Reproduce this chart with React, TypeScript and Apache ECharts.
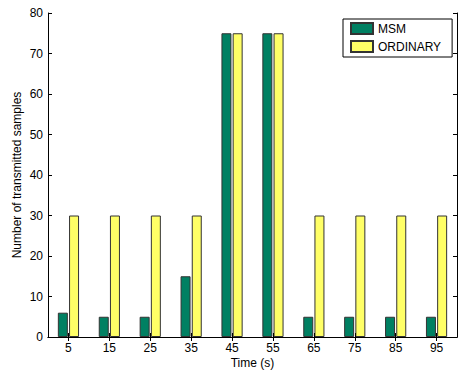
import React, { useEffect, useRef } from "react";
import * as echarts from "echarts";

const categories = ["5", "15", "25", "35", "45", "55", "65", "75", "85", "95"];
const msm = [6, 5, 5, 15, 75, 75, 5, 5, 5, 5];
const ordinary = [30, 30, 30, 30, 75, 75, 30, 30, 30, 30];
const yTicks = { min: 0, max: 80, interval: 10 };

const FONT = "'Liberation Sans', Arial, sans-serif";

export default function App() {
  const ref = useRef<HTMLDivElement>(null);
  useEffect(() => {
    if (!ref.current) return;
    const chart = echarts.init(ref.current, undefined, { renderer: "svg" });
    const axisLine = { show: true, lineStyle: { color: "#000", width: 1 } };
    const tick = { show: true, inside: true, length: 4, lineStyle: { color: "#000" } };
    chart.setOption({
      animation: false,
      backgroundColor: "#fff",
      textStyle: { fontFamily: FONT },
      grid: { left: 48, right: 1, top: 13, bottom: 33, outerBoundsMode: "none", containLabel: false },
      legend: {
        orient: "vertical",
        left: 343,
        top: 19,
        padding: [3, 11, 4, 7],
        itemWidth: 22,
        itemHeight: 11,
        itemGap: 5,
        backgroundColor: "#fff",
        borderColor: "#000",
        borderWidth: 1,
        borderRadius: 0,
        icon: "rect",
        textStyle: { fontSize: 12, color: "#000", fontFamily: FONT, padding: [0, 0, 0, 0] },
        data: ["MSM", "ORDINARY"],
      },
      xAxis: [
        {
          type: "category",
          data: categories,
          position: "bottom",
          z: 10,
          axisLine,
          axisTick: { ...tick, alignWithLabel: true },
          axisLabel: { color: "#000", fontSize: 12, fontFamily: FONT, margin: 5 },
          name: "Time (s)",
          nameLocation: "middle",
          nameGap: 20,
          nameMoveOverlap: false,
          nameTextStyle: { color: "#000", fontSize: 12, fontFamily: FONT },
          splitLine: { show: false },
        },
        {
          type: "category",
          data: categories,
          position: "top",
          z: 10,
          axisLine,
          axisTick: { ...tick, alignWithLabel: true },
          axisLabel: { show: false },
          splitLine: { show: false },
        },
      ],
      yAxis: [
        {
          type: "value",
          position: "left",
          ...yTicks,
          z: 10,
          axisLine,
          axisTick: tick,
          axisLabel: { color: "#000", fontSize: 12, fontFamily: FONT, margin: 5 },
          name: "Number of transmitted samples",
          nameLocation: "middle",
          nameGap: 25,
          nameMoveOverlap: false,
          nameRotate: 90,
          nameTextStyle: { color: "#000", fontSize: 12, fontFamily: FONT },
          splitLine: { show: false },
        },
        {
          type: "value",
          position: "right",
          ...yTicks,
          z: 10,
          axisLine,
          axisTick: tick,
          axisLabel: { show: false },
          splitLine: { show: false },
        },
      ],
      series: [
        {
          name: "MSM",
          type: "bar",
          data: msm,
          barWidth: 10,
          barGap: "12%",
          itemStyle: { color: "#008062", borderColor: "#333", borderWidth: 1 },
        },
        {
          name: "ORDINARY",
          type: "bar",
          data: ordinary,
          barWidth: 10,
          barGap: "12%",
          itemStyle: { color: "#ffff66", borderColor: "#333", borderWidth: 1 },
        },
      ],
    });
    return () => chart.dispose();
  }, []);
  return <div ref={ref} style={{ width: 458, height: 370, position: "absolute", left: 0, top: 0 }} />;
}
